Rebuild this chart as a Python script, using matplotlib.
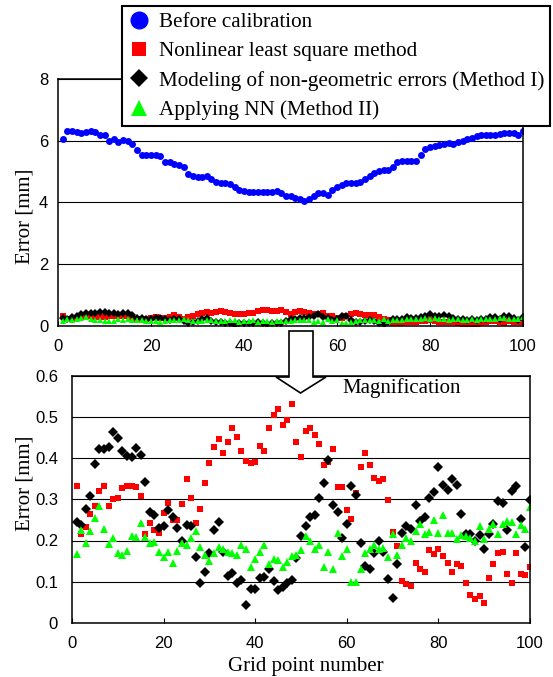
import numpy as np
import matplotlib
matplotlib.use('Agg')
from matplotlib import pyplot as plt
from matplotlib.lines import Line2D
from matplotlib.patches import Polygon

# grid point numbers
grid = np.arange(1, 101)

# error before calibration [mm]
before = [6.05, 6.30, 6.33, 6.28, 6.26, 6.28, 6.30, 6.28, 6.20, 6.20,
          6.00, 6.05, 5.95, 6.02, 6.00, 5.88, 5.70, 5.55, 5.55, 5.55,
          5.55, 5.50, 5.32, 5.30, 5.25, 5.22, 5.15, 4.92, 4.85, 4.82,
          4.82, 4.85, 4.75, 4.65, 4.62, 4.62, 4.60, 4.50, 4.40, 4.37,
          4.35, 4.33, 4.35, 4.35, 4.33, 4.35, 4.38, 4.30, 4.22, 4.20,
          4.15, 4.12, 4.05, 4.10, 4.20, 4.30, 4.30, 4.25, 4.42, 4.50,
          4.58, 4.62, 4.62, 4.62, 4.65, 4.75, 4.85, 4.95, 5.02, 5.05,
          5.05, 5.15, 5.30, 5.33, 5.33, 5.33, 5.33, 5.55, 5.72, 5.80,
          5.82, 5.85, 5.90, 5.92, 5.90, 5.95, 6.00, 6.05, 6.10, 6.15,
          6.18, 6.20, 6.20, 6.20, 6.22, 6.25, 6.25, 6.25, 6.20, 6.32]

# nonlinear least square method
nls = [0.331, 0.215, 0.232, 0.265, 0.284, 0.319, 0.332, 0.284, 0.300, 0.303,
       0.327, 0.332, 0.332, 0.329, 0.308, 0.215, 0.242, 0.226, 0.219, 0.266,
       0.292, 0.250, 0.250, 0.289, 0.348, 0.303, 0.242, 0.276, 0.339, 0.387,
       0.427, 0.445, 0.411, 0.440, 0.473, 0.450, 0.418, 0.392, 0.387, 0.390,
       0.429, 0.418, 0.473, 0.505, 0.519, 0.481, 0.492, 0.532, 0.439, 0.403,
       0.465, 0.473, 0.456, 0.434, 0.384, 0.390, 0.421, 0.329, 0.329, 0.273,
       0.253, 0.315, 0.377, 0.413, 0.382, 0.352, 0.344, 0.348, 0.298, 0.221,
       0.187, 0.103, 0.094, 0.089, 0.145, 0.131, 0.123, 0.176, 0.168, 0.179,
       0.163, 0.145, 0.124, 0.144, 0.139, 0.097, 0.068, 0.058, 0.066, 0.048,
       0.108, 0.142, 0.169, 0.171, 0.119, 0.098, 0.169, 0.119, 0.116, 0.135]

# Method I: modeling of non-geometric errors
method1 = [0.244, 0.238, 0.276, 0.309, 0.385, 0.421, 0.421, 0.427, 0.463, 0.448,
           0.416, 0.405, 0.402, 0.424, 0.408, 0.343, 0.269, 0.262, 0.230, 0.235,
           0.274, 0.258, 0.230, 0.200, 0.237, 0.235, 0.161, 0.098, 0.123, 0.169,
           0.226, 0.244, 0.173, 0.115, 0.121, 0.097, 0.105, 0.044, 0.082, 0.082,
           0.109, 0.111, 0.131, 0.103, 0.079, 0.087, 0.096, 0.105, 0.157, 0.211,
           0.235, 0.258, 0.263, 0.302, 0.339, 0.395, 0.285, 0.268, 0.206, 0.241,
           0.332, 0.310, 0.195, 0.139, 0.131, 0.169, 0.200, 0.173, 0.106, 0.060,
           0.144, 0.219, 0.235, 0.229, 0.285, 0.248, 0.258, 0.303, 0.318, 0.379,
           0.335, 0.323, 0.350, 0.335, 0.265, 0.216, 0.215, 0.200, 0.213, 0.179,
           0.215, 0.240, 0.295, 0.292, 0.226, 0.319, 0.331, 0.252, 0.185, 0.298]

# Method II: applying NN
method2 = [0.168, 0.226, 0.195, 0.224, 0.255, 0.284, 0.229, 0.192, 0.205, 0.169,
           0.165, 0.174, 0.211, 0.208, 0.242, 0.208, 0.195, 0.197, 0.173, 0.160,
           0.171, 0.145, 0.174, 0.194, 0.189, 0.205, 0.223, 0.185, 0.165, 0.150,
           0.169, 0.185, 0.179, 0.173, 0.169, 0.166, 0.189, 0.179, 0.135, 0.156,
           0.173, 0.189, 0.144, 0.156, 0.152, 0.135, 0.147, 0.163, 0.166, 0.176,
           0.210, 0.198, 0.179, 0.190, 0.135, 0.173, 0.131, 0.218, 0.163, 0.179,
           0.100, 0.100, 0.132, 0.170, 0.179, 0.189, 0.179, 0.182, 0.161, 0.216,
           0.165, 0.189, 0.205, 0.200, 0.223, 0.240, 0.215, 0.221, 0.250, 0.219,
           0.263, 0.218, 0.218, 0.203, 0.213, 0.211, 0.206, 0.200, 0.235, 0.203,
           0.227, 0.239, 0.216, 0.239, 0.248, 0.245, 0.215, 0.237, 0.229, 0.281]

labels = ['Before calibration', 'Nonlinear least square method',
          'Modeling of non-geometric errors (Method I)', 'Applying NN (Method II)']

serif = 'Liberation Serif'
sans = 'Liberation Sans'
W, H = 553, 677

def fx(px):
    return px / W

def fy(py):
    return 1 - py / H

fig = plt.figure(figsize=(W / 100, H / 100), dpi=100)
ax1 = fig.add_axes([fx(58), fy(326), (523 - 58) / W, (326 - 79) / H])
ax2 = fig.add_axes([fx(72), fy(623), (530 - 72) / W, (623 - 375.5) / H])

#top plot
ax1.plot(grid, before, 'o', color='#0000FF', ms=5, mew=0)
ax1.plot(grid, nls, 's', color='#FF0000', ms=4, mew=0)
ax1.plot(grid, method1, 'D', color='black', ms=4, mew=0)
ax1.plot(grid, method2, '^', color='#00FF00', ms=4.5, mew=0)
ax1.set_xlim(0, 100)
ax1.set_ylim(0, 8)
ax1.set_yticks([0, 2, 4, 6, 8])
ax1.set_xticks([0, 20, 40, 60, 80, 100])

#bottom plot
ax2.plot(grid, nls, 's', color='#FF0000', ms=5, mew=0)
ax2.plot(grid, method1, 'D', color='black', ms=5, mew=0)
ax2.plot(grid, method2, '^', color='#00FF00', ms=6, mew=0)
ax2.set_xlim(0, 100)
ax2.set_ylim(0, 0.6)
ax2.set_yticks([0, 0.1, 0.2, 0.3, 0.4, 0.5, 0.6])
ax2.set_yticklabels(['0', '0.1', '0.2', '0.3', '0.4', '0.5', '0.6'])
ax2.set_xticks([0, 20, 40, 60, 80, 100])

for ax, ypad in ((ax1, 7), (ax2, 10)):
    ax.yaxis.grid(True, color='black', lw=0.8)
    ax.set_axisbelow(True)
    ax.tick_params(axis='x', direction='in', length=3.5, width=0.8, pad=9.5,
                   labelsize=12)
    ax.tick_params(axis='y', length=0, pad=ypad, labelsize=12)
    for lab in ax.get_xticklabels() + ax.get_yticklabels():
        lab.set_fontfamily(sans)
    for sp in ax.spines.values():
        sp.set_linewidth(1.1)

fig.text(fx(25), fy(216.5), 'Error [mm]', rotation=90, ha='center', va='center',
         family=serif, fontsize=15)
fig.text(fx(25), fy(483), 'Error [mm]', rotation=90, ha='center', va='center',
         family=serif, fontsize=15)
fig.text(fx(306), fy(666), 'Grid point number', ha='center', va='center',
         family=serif, fontsize=15)
fig.text(fx(402), fy(388), 'Magnification', ha='center', va='center',
         family=serif, fontsize=15)

# hollow arrow between the plots
arrow_px = [(289, 331), (313, 331), (313, 377), (326, 377), (300.5, 393),
            (276, 377), (289, 377)]
arrow = Polygon([(fx(x), fy(y)) for x, y in arrow_px], closed=True,
                transform=fig.transFigure, facecolor='white', edgecolor='black',
                lw=1.2, zorder=10)
fig.patches.append(arrow)

handles = [Line2D([], [], ls='none', marker='o', color='#0000FF', ms=13, mew=0),
           Line2D([], [], ls='none', marker='s', color='#FF0000', ms=10.5, mew=0),
           Line2D([], [], ls='none', marker='D', color='black', ms=9, mew=0),
           Line2D([], [], ls='none', marker='^', color='#00FF00', ms=12, mew=0)]
leg = fig.legend(handles, labels, loc='upper left', bbox_to_anchor=(fx(121.7), fy(6)),
                 prop={'family': serif, 'size': 15.2}, frameon=True, fancybox=False,
                 edgecolor='black', framealpha=1, borderpad=0.3, labelspacing=0.45,
                 handlelength=1.0, handletextpad=0.45, borderaxespad=0)
leg.get_frame().set_linewidth(1.5)
leg.set_zorder(20)

fig.savefig('out.png', dpi=100)
